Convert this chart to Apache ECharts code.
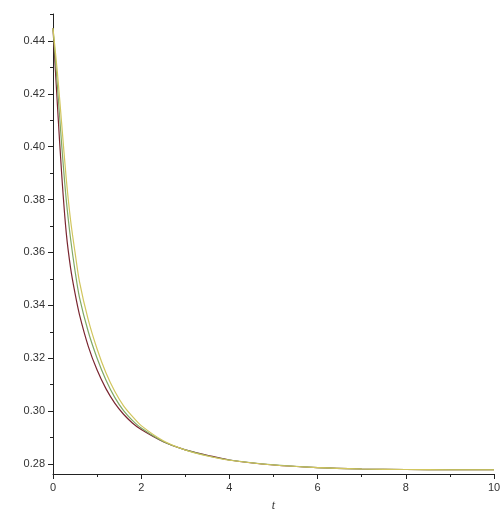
<!DOCTYPE html>
<html>
<head>
<meta charset="utf-8">
<script src="https://cdn.jsdelivr.net/npm/echarts@6/dist/echarts.min.js"></script>
<style>
  html, body { margin: 0; padding: 0; background: #fff; }
  #chart { width: 504px; height: 517px; }
</style>
</head>
<body>
<div id="chart"></div>
<script>
// values
const tValues = [0, 0.1, 0.2, 0.3, 0.4, 0.5, 0.6, 0.8, 1.0, 1.2, 1.4, 1.6, 1.8, 2.0, 2.5, 3.0, 3.5, 4.0, 5.0, 6.0, 7.0, 8.0, 9.0, 10.0]
const darkCurve = [0.4448, 0.4158, 0.3888, 0.3675, 0.3540, 0.3445, 0.3365, 0.3245, 0.3155, 0.3085, 0.3030, 0.2988, 0.2955, 0.2930, 0.2884, 0.2853, 0.2833, 0.2815, 0.2796, 0.2786, 0.2781, 0.2779, 0.2778, 0.2778]
const greenCurve = [0.4448, 0.4230, 0.4000, 0.3800, 0.3650, 0.3530, 0.3430, 0.3300, 0.3200, 0.3118, 0.3052, 0.3002, 0.2965, 0.2936, 0.2885, 0.2853, 0.2831, 0.2815, 0.2797, 0.2786, 0.2781, 0.2779, 0.2778, 0.2778]
const yellowCurve = [0.4448, 0.4280, 0.4080, 0.3880, 0.3720, 0.3600, 0.3490, 0.3345, 0.3235, 0.3145, 0.3075, 0.3020, 0.2980, 0.2945, 0.2888, 0.2853, 0.2830, 0.2814, 0.2796, 0.2786, 0.2781, 0.2779, 0.2778, 0.2778]

const yMajorTicks = [0.28, 0.30, 0.32, 0.34, 0.36, 0.38, 0.40, 0.42, 0.44]
const yMinorTicks = [0.29, 0.31, 0.33, 0.35, 0.37, 0.39, 0.41, 0.43, 0.45]

const pairs = arr => tValues.map((t, i) => [t, arr[i]])

const chart = echarts.init(document.getElementById('chart'))
const labelFont = { fontFamily: 'Liberation Sans', fontSize: 11, color: '#333' }
const axisColor = '#222'

chart.setOption({
  animation: false,
  grid: { left: 53, right: 10, top: 14, bottom: 42 },
  xAxis: {
    type: 'value',
    min: 0,
    max: 10,
    interval: 2,
    name: 't',
    nameLocation: 'middle',
    nameGap: 26,
    nameTextStyle: { fontFamily: 'Liberation Serif', fontStyle: 'italic', fontSize: 12, color: '#333' },
    axisLine: { lineStyle: { color: axisColor, width: 1 } },
    axisTick: { length: 5, lineStyle: { color: axisColor } },
    minorTick: { show: true, splitNumber: 2, length: 3, lineStyle: { color: axisColor } },
    splitLine: { show: false },
    axisLabel: { ...labelFont, margin: 8 },
  },
  yAxis: [
    {
      type: 'value',
      min: 0.2762,
      max: 0.4502,
      axisLine: { show: true, onZero: false, lineStyle: { color: axisColor, width: 1 } },
      axisTick: { show: true, length: 5, customValues: yMajorTicks, lineStyle: { color: axisColor } },
      axisLabel: { ...labelFont, margin: 8, customValues: yMajorTicks, formatter: v => v.toFixed(2) },
      splitLine: { show: false },
    },
    {
      type: 'value',
      min: 0.2762,
      max: 0.4502,
      position: 'left',
      axisLine: { show: false },
      axisTick: { show: true, length: 3, customValues: yMinorTicks, lineStyle: { color: axisColor } },
      axisLabel: { show: false },
      splitLine: { show: false },
    },
  ],
  series: [
    {
      type: 'line',
      data: pairs(darkCurve),
      smooth: 0.3,
      symbol: 'none',
      lineStyle: { width: 1.2, color: '#7a2630' },
    },
    {
      type: 'line',
      data: pairs(greenCurve),
      smooth: 0.3,
      symbol: 'none',
      lineStyle: { width: 1.2, color: '#7fa865' },
    },
    {
      type: 'line',
      data: pairs(yellowCurve),
      smooth: 0.3,
      symbol: 'none',
      lineStyle: { width: 1.2, color: '#d2c65e' },
    },
  ],
})
</script>
</body>
</html>
